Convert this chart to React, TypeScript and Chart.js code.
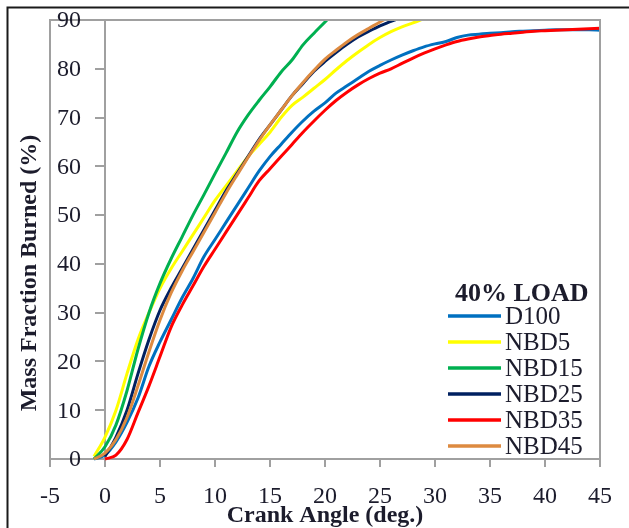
import { useEffect, useRef } from 'react';
import { Chart, registerables } from 'chart.js';

Chart.register(...registerables);

// ---- data ----
const crankAngle = [-2, -1, 0, 1, 2, 3, 4, 5, 6, 7, 8, 9, 10, 11, 12, 13, 14, 15, 16, 17, 18, 19, 20, 21, 22, 23, 24, 25, 26, 27, 28, 29, 30, 31, 32, 33, 34, 35, 36, 37, 38, 39, 40, 41, 42, 43, 44, 45];

const d100 = [null, 0, 0.8, 3.5, 7.5, 12.5, 19, 24, 28.5, 33, 37, 41.5, 45, 48.5, 52, 55.5, 59, 62, 64.5, 67, 69.3, 71.3, 73, 75, 76.5, 78, 79.5, 80.7, 81.8, 82.8, 83.7, 84.5, 85.1, 85.6, 86.4, 86.9, 87.1, 87.3, 87.4, 87.6, 87.7, 87.8, 87.9, 88, 88, 88, 88, 87.9];
const nbd5 = [null, 0.5, 4.5, 10, 17.5, 24.5, 30, 35, 39, 42.5, 46, 49.5, 53, 56, 59, 62, 64.5, 67, 70, 72.5, 74.2, 76, 77.8, 79.8, 81.7, 83.4, 85, 86.4, 87.6, 88.6, 89.4, 90.3, null, null, null, null, null, null, null, null, null, null, null, null, null, null, null, null];
const nbd15 = [null, 0, 2.5, 7, 14, 22.5, 30, 36, 41, 45.5, 50, 54.2, 58.5, 62.7, 67, 70.5, 73.5, 76.3, 79.3, 81.8, 84.9, 87.3, 89.6, 92, null, null, null, null, null, null, null, null, null, null, null, null, null, null, null, null, null, null, null, null, null, null, null, null];
const nbd25 = [null, null, 0.5, 4.5, 10, 17.5, 24.5, 30.5, 35, 39, 43, 47, 51, 55, 58.5, 62, 65.5, 68.5, 71.5, 74.5, 77, 79.5, 81.5, 83.3, 85, 86.5, 87.7, 88.8, 89.7, 90.6, null, null, null, null, null, null, null, null, null, null, null, null, null, null, null, null, null, null];
const nbd35 = [null, null, 0, 0.8, 4, 9.5, 15, 21, 27, 31.5, 35.5, 39.5, 43, 46.5, 50, 53.5, 57, 59.5, 62, 64.5, 67, 69.3, 71.5, 73.5, 75.2, 76.7, 78, 79.1, 80, 81.1, 82.2, 83.2, 84.1, 84.9, 85.6, 86.1, 86.5, 86.8, 87.1, 87.3, 87.5, 87.7, 87.8, 87.9, 88, 88.1, 88.2, 88.3];
const nbd45 = [null, 0, 1.2, 4, 8.5, 15, 22, 28.5, 34, 38.5, 42.5, 46.5, 50.5, 54.5, 58.2, 61.8, 65.3, 68.5, 71.5, 74.5, 77.2, 79.7, 82, 83.8, 85.5, 87, 88.3, 89.6, 90.8, null, null, null, null, null, null, null, null, null, null, null, null, null, null, null, null, null, null, null];

const seriesNames = ['D100', 'NBD5', 'NBD15', 'NBD25', 'NBD35', 'NBD45'];
const seriesColors = ['#0070C0', '#FFFF00', '#00B050', '#002060', '#FF0000', '#DD8A40'];
const legendTitle = '40% LOAD';
const xTitle = 'Crank Angle (deg.)';
const yTitle = 'Mass Fraction Burned (%)';

const FONT = "'Liberation Serif', 'Times New Roman', serif";
const TEXT = '#1c1c2c';
const GRAY = '#a0a0a0';

export default function App() {
  const ref = useRef<HTMLCanvasElement>(null);

  useEffect(() => {
    document.body.style.margin = '0';
    const canvas = ref.current;
    if (!canvas) return;
    const series = [d100, nbd5, nbd15, nbd25, nbd35, nbd45];
    const datasets = series.map((vals, i) => ({
      label: seriesNames[i],
      data: crankAngle
        .map((a, j) => ({ x: a, y: vals[j] }))
        .filter((p) => p.y !== null),
      borderColor: seriesColors[i],
      backgroundColor: seriesColors[i],
      borderWidth: 3,
      pointRadius: 0,
      fill: false,
      cubicInterpolationMode: 'monotone',
      order: series.length - i,
      clip: { left: 0, top: 0, right: 2, bottom: 2 },
    }));

    const decor = {
      id: 'decor',
      beforeDraw(chart: any) {
        const ctx = chart.ctx;
        ctx.save();
        ctx.fillStyle = '#ffffff';
        ctx.fillRect(0, 0, chart.width, chart.height);
        ctx.strokeStyle = '#1a1a1a';
        ctx.lineWidth = 2;
        ctx.beginPath();
        ctx.moveTo(7.5, chart.height);
        ctx.lineTo(7.5, 7.5);
        ctx.lineTo(chart.width, 7.5);
        ctx.stroke();
        ctx.restore();
      },
      afterDraw(chart: any) {
        const ctx = chart.ctx;
        const a = chart.chartArea;
        ctx.save();
        // plot area border
        ctx.strokeStyle = GRAY;
        ctx.lineWidth = 2;
        ctx.beginPath();
        ctx.moveTo(a.left, a.bottom);
        ctx.lineTo(a.left, a.top);
        ctx.lineTo(a.right, a.top);
        ctx.lineTo(a.right, a.bottom);
        ctx.stroke();
        // y tick labels, right-aligned left of the y axis (which sits at x = 0)
        const ys = chart.scales.y;
        const x0 = chart.scales.x.getPixelForValue(0);
        ctx.fillStyle = TEXT;
        ctx.font = `24px ${FONT}`;
        ctx.textAlign = 'right';
        ctx.textBaseline = 'middle';
        ys.ticks.forEach((t: any) => {
          ctx.fillText(String(t.value), x0 - 9 - 15, ys.getPixelForValue(t.value) + 1);
        });
        // y title
        ctx.font = `bold 24px ${FONT}`;
        ctx.textAlign = 'center';
        ctx.translate(30, 273);
        ctx.rotate(-Math.PI / 2);
        ctx.fillText(yTitle, 0, 0);
        ctx.setTransform(1, 0, 0, 1, 0, 0);
        // legend
        ctx.textAlign = 'left';
        ctx.font = `bold 26px ${FONT}`;
        ctx.fillText(legendTitle, 455, 294);
        ctx.font = `25px ${FONT}`;
        chart.data.datasets.forEach((ds: any, i: number) => {
          const y = 316 + i * 26;
          ctx.strokeStyle = ds.borderColor;
          ctx.lineWidth = 3.5;
          ctx.beginPath();
          ctx.moveTo(448, y);
          ctx.lineTo(501, y);
          ctx.stroke();
          ctx.fillStyle = TEXT;
          ctx.fillText(ds.label, 505, y + 1);
        });
        ctx.restore();
      },
    };

    const chart = new Chart(canvas, {
      type: 'line',
      data: { datasets: datasets as any },
      options: {
        responsive: false,
        animation: false,
        devicePixelRatio: 1,
        layout: { padding: { left: 50, right: 29, top: 20, bottom: 0 } },
        plugins: {
          legend: { display: false },
          tooltip: { enabled: false },
          title: { display: false },
        },
        elements: { line: { tension: 0.4 } },
        scales: {
          x: {
            type: 'linear',
            min: -5,
            max: 45,
            position: 'bottom',
            ticks: {
              stepSize: 5,
              color: TEXT,
              font: { family: FONT, size: 24 },
              padding: 15,
              maxRotation: 0,
              autoSkip: false,
            },
            grid: { drawOnChartArea: false, drawTicks: true, tickLength: 8, color: GRAY, lineWidth: 2 },
            border: { color: GRAY, width: 2 },
            title: {
              display: true,
              text: xTitle,
              color: TEXT,
              font: { family: FONT, size: 24, weight: 'bold' },
              padding: { top: 0, bottom: -2 },
            },
            afterFit(scale: any) {
              scale.height = 69;
            },
          },
          y: {
            type: 'linear',
            min: 0,
            max: 90,
            position: { x: 0 } as any,
            ticks: {
              stepSize: 10,
              display: false,
            },
            grid: { drawOnChartArea: false, drawTicks: true, tickLength: 9, color: GRAY, lineWidth: 2 },
            border: { color: GRAY, width: 2 },
          },
        },
      },
      plugins: [decor],
    } as any);

    return () => chart.destroy();
  }, []);

  return (
    <div style={{ width: 629, height: 528, position: 'relative', overflow: 'hidden' }}>
      <canvas ref={ref} width={629} height={528} style={{ display: 'block' }} />
    </div>
  );
}
